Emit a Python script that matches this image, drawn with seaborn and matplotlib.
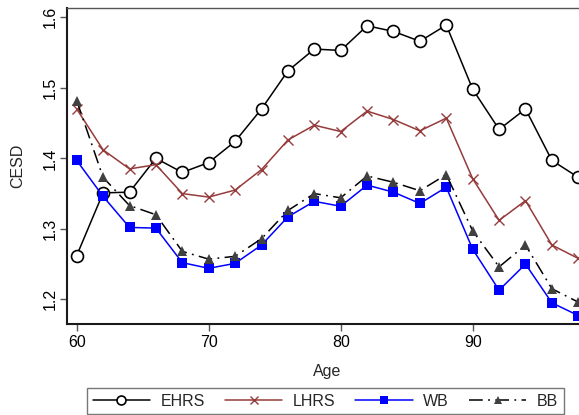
import numpy as np
import pandas as pd
import matplotlib
matplotlib.use("Agg")
import matplotlib.pyplot as plt
import seaborn as sns

# Mean CESD score by age for four samples
ages = [60, 62, 64, 66, 68, 70, 72, 74, 76, 78, 80, 82, 84, 86, 88, 90, 92, 94, 96, 98]
ehrs = [1.262, 1.351, 1.352, 1.400, 1.380, 1.394, 1.424, 1.470, 1.524, 1.555,
        1.553, 1.588, 1.580, 1.566, 1.589, 1.498, 1.441, 1.470, 1.397, 1.373]
lhrs = [1.470, 1.412, 1.385, 1.391, 1.350, 1.345, 1.355, 1.384, 1.426, 1.447,
        1.438, 1.467, 1.455, 1.439, 1.457, 1.371, 1.312, 1.340, 1.277, 1.258]
wb = [1.397, 1.346, 1.302, 1.301, 1.252, 1.244, 1.251, 1.277, 1.317, 1.339,
      1.332, 1.362, 1.352, 1.336, 1.359, 1.271, 1.213, 1.250, 1.195, 1.177]
bb = [1.482, 1.373, 1.333, 1.320, 1.268, 1.257, 1.261, 1.286, 1.326, 1.350,
      1.344, 1.375, 1.366, 1.354, 1.377, 1.297, 1.246, 1.277, 1.215, 1.196]

series_names = ["EHRS", "LHRS", "WB", "BB"]
series_values = [ehrs, lhrs, wb, bb]
y_ticks = [1.2, 1.3, 1.4, 1.5, 1.6]
x_ticks = [60, 70, 80, 90]

sns.set_style("white")
plt.rcParams["font.family"] = ["Liberation Sans", "DejaVu Sans"]
plt.rcParams["font.size"] = 11.5

styles = {
    "EHRS": dict(color="black", marker="o", markersize=8.6, markerfacecolor="white",
                 markeredgecolor="black", markeredgewidth=1.2, linestyle="-", linewidth=1.1),
    "LHRS": dict(color="#953b3b", marker="x", markersize=7, markeredgewidth=1.0,
                 markeredgecolor="#953b3b", linestyle="-", linewidth=1.1),
    "WB": dict(color="#0000ff", marker="s", markersize=6.8, markerfacecolor="#0000ff",
               markeredgecolor="#0000ff", markeredgewidth=0,
               linestyle="-", linewidth=1.1),
    "BB": dict(color="black", marker="^", markersize=7.6, markerfacecolor="#404040",
               markeredgecolor="#404040", markeredgewidth=0,
               linestyle=(0, (9, 3.5, 1.2, 3.5)), linewidth=1.1),
}

df = pd.DataFrame({"Age": ages})
for name, vals in zip(series_names, series_values):
    df[name] = vals

fig = plt.figure(figsize=(5.79, 4.15), dpi=100)
ax = fig.add_axes([67 / 579, 91 / 415, 521 / 579, 315.7 / 415])

for name in series_names:
    sns.lineplot(data=df, x="Age", y=name, ax=ax, label=name, errorbar=None,
                 **styles[name])

ax.set_xlim(59.265, 98.735)
ax.set_ylim(1.165, 1.6128)
ax.set_xticks(x_ticks)
ax.set_yticks(y_ticks)
ax.set_yticklabels([f"{v:.1f}" for v in y_ticks], rotation=90, va="center")
ax.tick_params(axis="both", direction="out", length=5, width=1, color="#555555",
               labelsize=11.5, pad=3, labelcolor="black")
ax.tick_params(axis="y", pad=1.5)
ax.tick_params(axis="both", which="both", bottom=True, left=True)
ax.set_xlabel("Age", fontsize=11.5, labelpad=10)
ax.set_ylabel("CESD", fontsize=11.5, labelpad=13)

for side in ["left", "bottom"]:
    ax.spines[side].set_color("#1a1a1a")
    ax.spines[side].set_linewidth(1.5)
for side in ["top", "right"]:
    ax.spines[side].set_color("#555555")
    ax.spines[side].set_linewidth(1.0)

handles, labels = ax.get_legend_handles_labels()
if ax.legend_ is not None:
    ax.legend_.remove()
leg = fig.legend(handles, labels, ncol=4, loc="upper left",
                 bbox_to_anchor=(87 / 579, 1 - 388 / 415), borderaxespad=0,
                 frameon=True, fancybox=False, edgecolor="#555555",
                 fontsize=11.5, handlelength=3.6, handletextpad=0.65,
                 columnspacing=1.25, borderpad=0.35, markerscale=0.75)
leg.get_frame().set_linewidth(1.0)

fig.savefig("out.png", dpi=100)
